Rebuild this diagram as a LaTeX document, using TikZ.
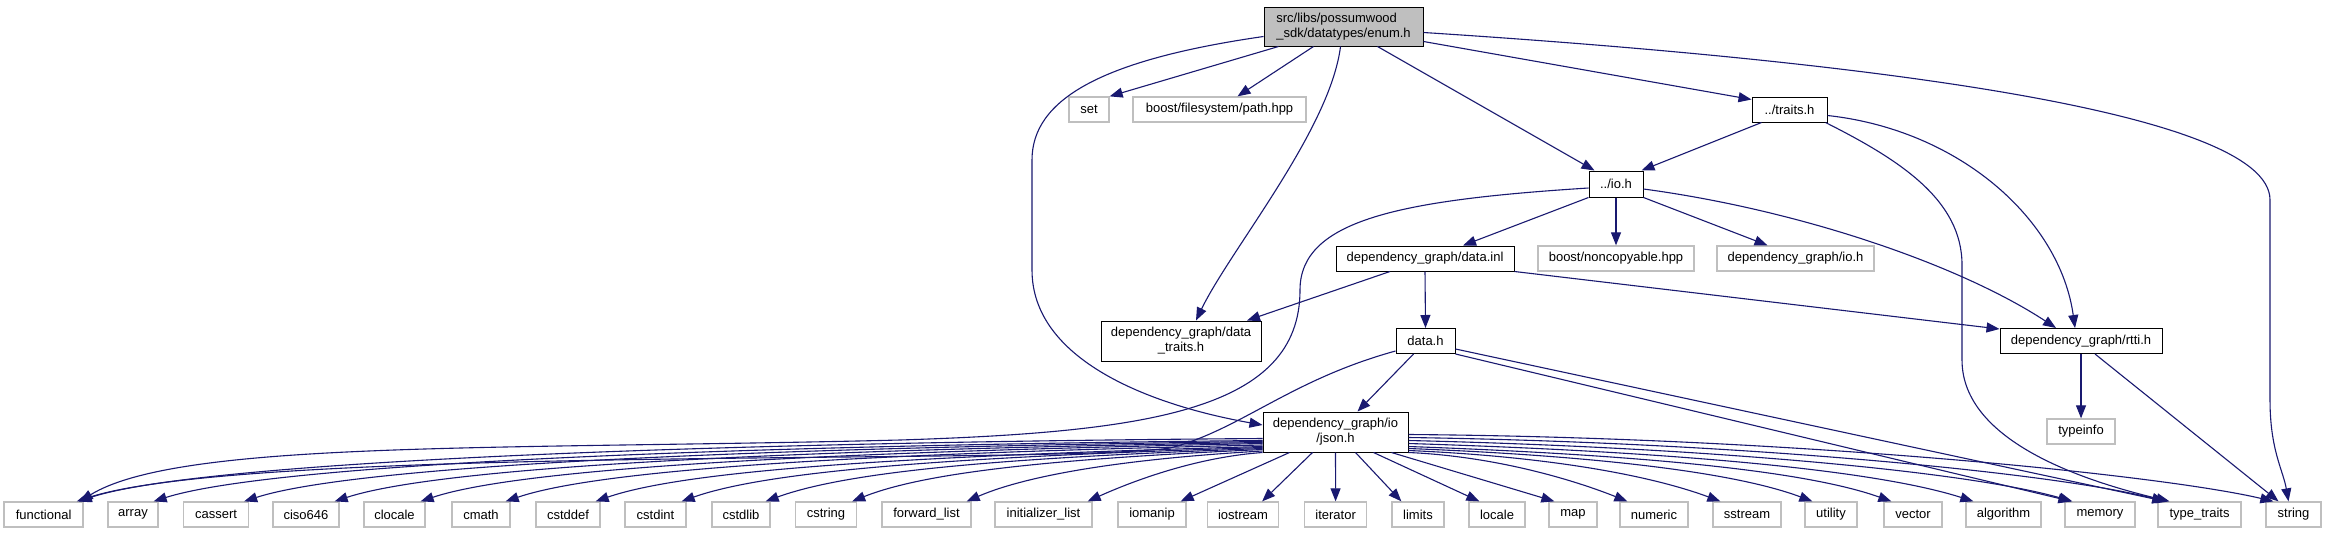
\documentclass[tikz,border=0pt]{standalone}
\usepackage{fontspec}
\setmainfont{Liberation Sans}
\usetikzlibrary{arrows.meta}
\definecolor{edgec}{RGB}{25,25,112}
\definecolor{greyb}{RGB}{191,191,191}
\begin{document}
\begin{tikzpicture}[x=1pt,y=1pt,
  box/.style={draw=black, line width=1pt, inner sep=0pt, minimum height=25pt, font=\fontsize{13}{15}\selectfont, text=black},
  ext/.style={box, draw=greyb, line width=1.3pt},
  edge/.style={draw=edgec, line width=1.1pt, -{Triangle[length=13pt,width=10pt]}},
]
\fill[white] (0,0) rectangle (2325,-533);
\useasboundingbox (0,0) rectangle (2325,-533);

% upper nodes
\node[box, fill=greyb, minimum width=159pt, minimum height=39pt, align=left] (enum) at (1343.5,-26.5) {src/libs/possumwood\\\_sdk/datatypes/enum.h};
\node[ext, minimum width=40pt] (set) at (1089,-109.5) {set};
\node[ext, minimum width=173pt] (path) at (1219.5,-109.5) {boost/filesystem/path.hpp};
\node[box, minimum width=75pt] (traits) at (1789.5,-109.5) {../traits.h};
\node[box, minimum width=54pt, minimum height=26pt] (io) at (1616,-184) {../io.h};
\node[box, minimum width=178pt] (datainl) at (1425,-258.5) {dependency\_graph/data.inl};
\node[ext, minimum width=156pt] (noncopy) at (1616,-258.5) {boost/noncopyable.hpp};
\node[ext, minimum width=157pt] (dgio) at (1795.5,-258.5) {dependency\_graph/io.h};
\node[box, minimum width=160pt, minimum height=40pt, align=center] (dtraits) at (1181,-341) {dependency\_graph/data\\\_traits.h};
\node[box, minimum width=59pt] (datah) at (1425.5,-341) {data.h};
\node[box, minimum width=162pt] (rtti) at (2081,-341) {dependency\_graph/rtti.h};
\node[box, minimum width=145pt, minimum height=40pt, align=center] (json) at (1335.5,-432) {dependency\_graph/io\\/json.h};
\node[ext, minimum width=68pt] (typeinfo) at (2081,-431.5) {typeinfo};

% bottom row
\foreach \n/\x/\w/\lbl in {
  functional/43.6/79/functional, array/133/50/array, cassert/216/65/cassert,
  ciso646/306/66/ciso646, clocale/394.5/61/clocale, cmath/481/58/cmath,
  cstddef/568/64/cstddef, cstdint/655.5/61/cstdint, cstdlib/741/58/cstdlib,
  cstring/826/61/cstring, forwardlist/926.5/89/forward\_list,
  initlist/1043.5/97/initializer\_list, iomanip/1152/68/iomanip,
  iostream/1243/71/iostream, iterator/1335.6/62/iterator, limits/1418/52/limits,
  locale/1497/56/locale, map/1573/48/map, numeric/1654/68/numeric,
  sstream/1747/68/sstream, utility/1831/52/utility, vector/1913/58/vector,
  algorithm/2003.5/75/algorithm, memory/2100/70/memory,
  typetraits/2199.5/83/type\_traits, string/2293.5/55/string}
  \node[ext, minimum width=\w pt] (\n) at (\x,-514.5) {\lbl};

% enum.h edges
\draw[edge] ([yshift=-10pt]enum.west) .. controls (1100,-60) and (1032,-100) .. (1032,-160) -- (1032,-270) .. controls (1032,-360) and (1150,-405) .. ([yshift=7pt]json.west);
\draw[edge] ([xshift=-65pt]enum.south) -- (set.north east);
\draw[edge] ([xshift=-30pt]enum.south) -- ([xshift=18pt]path.north);
\draw[edge] ([xshift=-3pt]enum.south) .. controls (1330,-130) and (1230,-250) .. ([xshift=15pt]dtraits.north);
\draw[edge] ([xshift=34pt]enum.south) -- ([xshift=6pt]io.north west);
\draw[edge] ([yshift=-15pt]enum.east) -- ([yshift=-3pt]traits.north west);
\draw[edge] ([yshift=-6pt]enum.east) .. controls (1850,-60) and (2270,-110) .. (2270,-200) -- (2270,-400) .. controls (2270,-450) and (2283,-470) .. ([xshift=-5pt]string.north);

% traits.h edges
\draw[edge] ([xshift=10pt]traits.south west) -- ([xshift=-2pt]io.north east);
\draw[edge] ([xshift=-2pt]traits.south east) .. controls (1900,-160) and (1962,-200) .. (1962,-265) -- (1962,-360) .. controls (1962,-440) and (2080,-480) .. ([xshift=-30pt]typetraits.north);
\draw[edge] ([yshift=-6pt]traits.east) .. controls (1960,-130) and (2060,-220) .. ([xshift=-6pt]rtti.north);

% io.h edges
\draw[edge] (io.south) -- (noncopy.north);
\draw[edge] (io.south east) -- ([xshift=-28pt]dgio.north);
\draw[edge] ([yshift=-5pt]io.east) .. controls (1800,-210) and (1960,-265) .. ([xshift=-25pt]rtti.north);
\draw[edge] (io.south west) -- ([xshift=38pt]datainl.north);
\draw[edge] ([yshift=-4pt]io.west) .. controls (1400,-200) and (1300,-220) .. (1300,-290) .. controls (1300,-410) and (1150,-432) .. (900,-440) .. controls (500,-450) and (180,-440) .. ([xshift=-4pt]functional.north east);

% data.inl edges
\draw[edge] ([xshift=-35pt]datainl.south) -- ([xshift=66pt]dtraits.north);
\draw[edge] (datainl.south) -- (datah.north);
\draw[edge] (datainl.south east) -- ([yshift=-1pt]rtti.north west);

% data.h edges
\draw[edge] ([xshift=-12pt]datah.south) -- ([xshift=22pt]json.north);
\draw[edge] ([yshift=-10pt]datah.west) .. controls (1290,-380) and (1240,-430) .. (1170,-448) .. controls (1050,-465) and (250,-445) .. ([xshift=-7pt]functional.north east);
\draw[edge] (datah.south east) -- ([xshift=7pt]memory.north west);
\draw[edge] ([yshift=-8pt]datah.east) -- ([xshift=8pt]typetraits.north west);

% rtti.h edges
\draw[edge] (rtti.south) -- (typeinfo.north);
\draw[edge] ([xshift=14pt]rtti.south) -- ([xshift=-15pt]string.north);

% json.h edges to the left
\foreach \t/\sy/\ca/\cd/\cb/\cc in {
  functional/14/-560/-4/120/40, array/12/-530/-5/120/38, cassert/11/-490/-6/115/37,
  ciso646/10/-450/-7/110/36, clocale/9/-410/-8/105/35, cmath/7.5/-370/-8/100/34,
  cstddef/6/-330/-9/95/33, cstdint/5/-290/-9/90/32, cstdlib/4/-250/-9/85/31,
  cstring/3/-200/-9/75/30, forwardlist/1.5/-140/-8/60/26, initlist/0/-70/-5/40/18}
  \draw[edge] ([yshift=\sy pt]json.south west) .. controls +(\ca,\cd) and +(\cb,\cc) .. ([xshift=-5pt]\t.north east);

% json.h edges straight below
\draw[edge] ([xshift=27pt]json.south west) -- ([xshift=-6pt]iomanip.north east);
\draw[edge] ([xshift=50pt]json.south west) -- ([xshift=-17pt]iostream.north east);
\draw[edge] (json.south) -- (iterator.north);
\draw[edge] ([xshift=20pt]json.south) -- ([xshift=10pt]limits.north west);
\draw[edge] ([xshift=38pt]json.south) -- ([xshift=11pt]locale.north west);
\draw[edge] ([xshift=56pt]json.south) -- ([xshift=6pt]map.north west);

% json.h edges to the right
\foreach \t/\sy/\ca/\cd/\cb/\cc in {
  numeric/0/90/-4/-50/20, sstream/2/140/-6/-70/26, utility/4/180/-7/-80/30,
  vector/6/220/-8/-90/32, algorithm/9/260/-8/-100/32, memory/12/300/-7/-105/30,
  typetraits/15/340/-5/-110/28, string/18/390/-3/-110/26}
  \draw[edge] ([yshift=\sy pt]json.south east) .. controls +(\ca,\cd) and +(\cb,\cc) .. ([xshift=8pt]\t.north west);
\end{tikzpicture}
\end{document}
